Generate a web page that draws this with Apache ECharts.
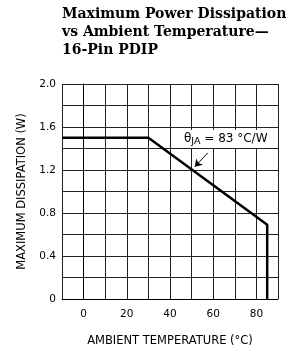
<!DOCTYPE html>
<html>
<head>
<meta charset="utf-8">
<script src="https://cdn.jsdelivr.net/npm/echarts@6/dist/echarts.min.js"></script>
<style>
  html, body { margin: 0; padding: 0; background: #fff; }
  #main { width: 299px; height: 352px; }
</style>
</head>
<body>
<div id="main"></div>
<script>
  // derating curve
  const curveTemp = [-10, 30, 85, 85];
  const curvePower = [1.5, 1.5, 0.69, 0];
  // annotation arrow (tail -> head), data coords
  const arrowTemp = [57.5, 51.5];
  const arrowPower = [1.36, 1.23];
  const xLabels = [0, 20, 40, 60, 80];
  const yLabels = [0, 0.4, 0.8, 1.2, 1.6, 2.0];

  const chart = echarts.init(document.getElementById('main'));
  const labelFont = { fontFamily: 'DejaVu Sans', fontSize: 10.5, color: '#000' };
  const nameFont = { fontFamily: 'DejaVu Sans', fontSize: 11.5, color: '#000' };

  chart.setOption({
    animation: false,
    title: {
      text: 'Maximum Power Dissipation\nvs Ambient Temperature—\n16-Pin PDIP',
      left: 57, top: 0,
      textStyle: {
        fontFamily: 'DejaVu Serif', fontWeight: 'bold', fontSize: 14,
        lineHeight: 18, color: '#000'
      }
    },
    grid: { left: 62, top: 84, right: 21, bottom: 52 },
    xAxis: {
      type: 'value', min: -10, max: 90, interval: 10,
      name: 'AMBIENT TEMPERATURE (°C)', nameLocation: 'middle', nameGap: 36,
      nameTextStyle: nameFont,
      axisLine: { lineStyle: { color: '#000', width: 1 } },
      axisTick: { show: false },
      axisLabel: Object.assign({
        margin: 10,
        formatter: v => xLabels.indexOf(v) >= 0 ? String(v) : ''
      }, labelFont),
      splitLine: { lineStyle: { color: '#222', width: 1 } }
    },
    yAxis: {
      type: 'value', min: 0, max: 2, interval: 0.2,
      name: 'MAXIMUM DISSIPATION (W)', nameLocation: 'middle', nameGap: 33,
      nameTextStyle: nameFont,
      axisLine: { show: true, lineStyle: { color: '#000', width: 1 } },
      axisTick: { show: false },
      axisLabel: Object.assign({
        margin: 6,
        formatter: v => {
          const hit = yLabels.find(l => Math.abs(l - v) < 1e-6);
          if (hit === undefined) return '';
          return hit === 0 ? '0' : hit.toFixed(1);
        }
      }, labelFont),
      splitLine: { lineStyle: { color: '#222', width: 1 } }
    },
    graphic: [{
      type: 'text',
      left: 182, top: 130,
      z: 100,
      style: {
        text: '{t|θ}{s|JA}{t| = 83 °C/W}',
        backgroundColor: '#fff',
        padding: [1, 2],
        rich: {
          t: { fontFamily: 'DejaVu Sans', fontSize: 12, color: '#000' },
          s: { fontFamily: 'DejaVu Sans', fontSize: 9.5, color: '#000', verticalAlign: 'bottom', padding: [6, 0, 0, 0] }
        }
      }
    }],
    series: [{
      type: 'line',
      data: curveTemp.map((t, i) => [t, curvePower[i]]),
      symbol: 'none',
      lineStyle: { color: '#000', width: 2.5 },
      z: 10
    }, {
      type: 'line',
      data: [],
      markLine: {
        silent: true,
        symbol: ['none', 'arrow'],
        symbolSize: 7,
        label: { show: false },
        lineStyle: { color: '#000', width: 1, type: 'solid' },
        data: [[
          { coord: [arrowTemp[0], arrowPower[0]] },
          { coord: [arrowTemp[1], arrowPower[1]] }
        ]]
      }
    }]
  });
</script>
</body>
</html>
